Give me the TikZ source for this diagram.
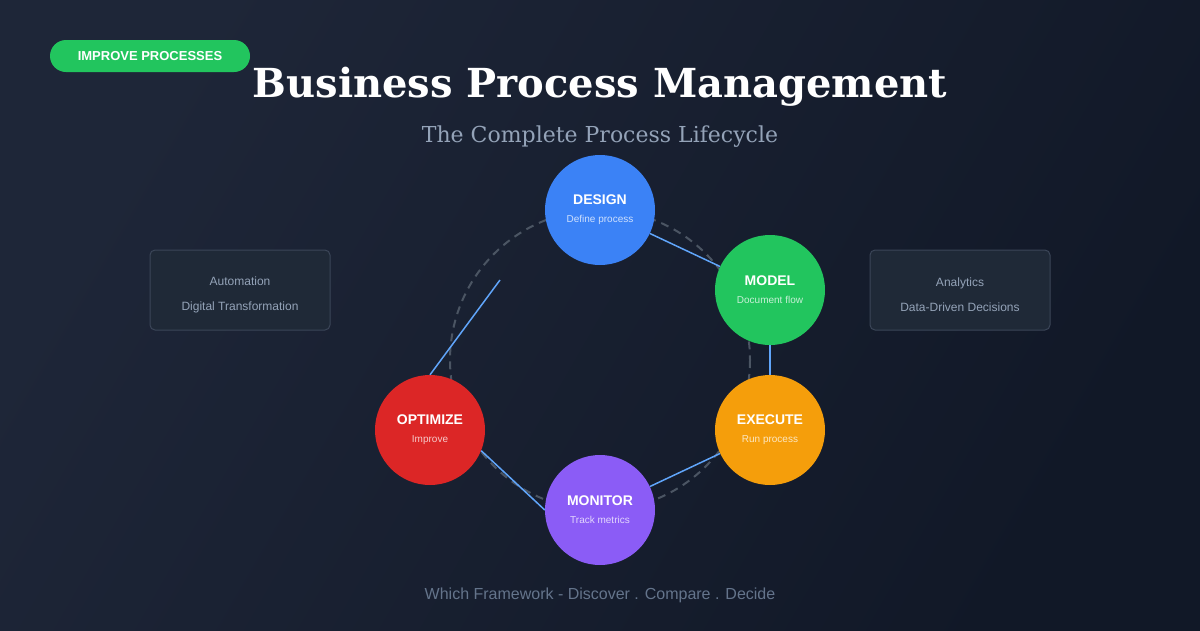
\documentclass[tikz,border=0pt]{standalone}
\usepackage{fontspec}
\setmainfont{Liberation Sans}
\newfontfamily\titlefont{DejaVu Serif}
\definecolor{bgA}{HTML}{1E2638}
\definecolor{bgB}{HTML}{111827}
\definecolor{cBlue}{HTML}{3B82F6}
\definecolor{cGreen}{HTML}{22C55E}
\definecolor{cOrange}{HTML}{F59E0B}
\definecolor{cPurple}{HTML}{8B5CF6}
\definecolor{cRed}{HTML}{DC2626}
\definecolor{lineBlue}{HTML}{60A5FA}
\definecolor{txtGray}{HTML}{94A3B8}
\definecolor{footGray}{HTML}{64748B}
\definecolor{boxFill}{HTML}{1F2937}
\definecolor{boxLine}{HTML}{3B4658}
\definecolor{dashGray}{HTML}{4B5563}
\begin{document}
\begin{tikzpicture}[x=1pt,y=-1pt,
  phase/.style={circle,minimum size=110pt,inner sep=0pt,align=center,text=white},
  link/.style={lineBlue,line width=1.5pt},
  side/.style={draw=boxLine,fill=boxFill,rounded corners=5pt,line width=1pt,minimum width=180pt,minimum height=80pt,align=center,text=txtGray,font=\fontsize{12}{25}\selectfont}]
\shade[left color=bgA,right color=bgB,shading angle=60] (0,0) rectangle (1200,630);
\useasboundingbox (0,0) rectangle (1200,630);
\node[fill=cGreen,rounded corners=16pt,minimum width=200pt,minimum height=32pt,text=white,font=\bfseries\fontsize{13}{13}\selectfont] (badge) at (150,56) {IMPROVE PROCESSES};
\node[text=white,font=\titlefont\bfseries\fontsize{40}{40}\selectfont] (title) at (600,87) {Business Process Management};
\node[text=txtGray,font=\titlefont\fontsize{22}{22}\selectfont] (sub) at (600,137) {The Complete Process Lifecycle};
\draw[dashGray,dashed,line width=2pt,dash pattern=on 8pt off 6pt] (600,360) circle (150);
\coordinate (free) at (500,280);
\node[phase,fill=cBlue] (design) at (600,210) {\bfseries\fontsize{14}{18}\selectfont DESIGN\\[6pt]{\fontsize{10}{12}\selectfont\color{white!75!cBlue}Define process}};
\node[phase,fill=cGreen] (model) at (770,290) {\bfseries\fontsize{14}{18}\selectfont MODEL\\[6pt]{\fontsize{10}{12}\selectfont\color{white!75!cGreen}Document flow}};
\node[phase,fill=cOrange] (execute) at (770,430) {\bfseries\fontsize{14}{18}\selectfont EXECUTE\\[6pt]{\fontsize{10}{12}\selectfont\color{white!75!cOrange}Run process}};
\node[phase,fill=cPurple] (monitor) at (600,510) {\bfseries\fontsize{14}{18}\selectfont MONITOR\\[6pt]{\fontsize{10}{12}\selectfont\color{white!75!cPurple}Track metrics}};
\node[phase,fill=cRed] (optimize) at (430,430) {\bfseries\fontsize{14}{18}\selectfont OPTIMIZE\\[6pt]{\fontsize{10}{12}\selectfont\color{white!75!cRed}Improve}};
\draw[link] (design) -- (model);
\draw[link] (model) -- (execute);
\draw[link] (execute) -- (monitor);
\draw[link] (optimize.-22) -- (monitor.west);
\draw[link] (optimize.north) -- (free);
\node[side] (left) at (240,290) {\\[-6pt]Automation\\Digital Transformation};
\node[side] (right) at (960,290) {\\[-6pt]Analytics\\Data-Driven Decisions};
\node[text=footGray,font=\fontsize{16}{16}\selectfont] (foot) at (600,595) {Which Framework - Discover . Compare . Decide};
\end{tikzpicture}
\end{document}
